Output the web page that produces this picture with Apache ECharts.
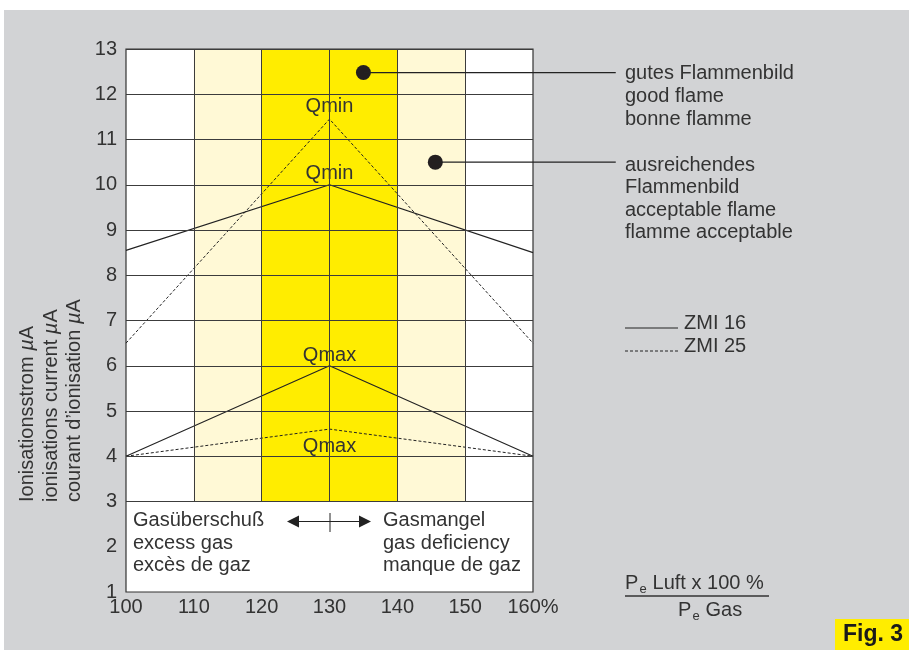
<!DOCTYPE html>
<html><head><meta charset="utf-8">
<script src="https://cdn.jsdelivr.net/npm/echarts@6/dist/echarts.min.js"></script>
<style>html,body{margin:0;padding:0;background:#fff}#c{width:909px;height:650px}</style>
</head><body><div id="c"></div>
<script>
// ---- data ----
const xPoints = [100, 130, 160];
const zmi16Qmin = [8.55, 10, 8.5];
const zmi16Qmax = [4, 6, 4];
const zmi25Qmin = [6.5, 11.45, 6.5];
const zmi25Qmax = [4, 4.6, 4];
const xTickLabels = ['100', '110', '120', '130', '140', '150', '160%'];
const yTickLabels = ['1','2','3','4','5','6','7','8','9','10','11','12','13'];
const gridYs = [3, 4, 5, 6, 7, 8, 9, 10, 11, 12, 13];
const gridXs = [110, 120, 130, 140, 150];
const lightBands = [[110, 120], [140, 150]];
const goodBands = [[120, 140]];
const bandYRange = [3, 13];
const peakLabels = [
  [130, 11.45, 'Qmin'],
  [130, 10, 'Qmin'],
  [130, 6, 'Qmax'],
  [130, 4.6, 'Qmax']
];
const flameDots = [[135, 12.48], [145.6, 10.5]];
const leaderEndX = 172.2;
const goodFlameText = ['gutes Flammenbild', 'good flame', 'bonne flamme'];
const okFlameText = ['ausreichendes', 'Flammenbild', 'acceptable flame', 'flamme acceptable'];
const yTitleLines = ['Ionisationsstrom ', 'ionisations current ', 'courant d\u2019ionisation '];
const leftBoxText = ['Gasüberschuß', 'excess gas', 'excès de gaz'];
const rightBoxText = ['Gasmangel', 'gas deficiency', 'manque de gaz'];
const legendNames = ['ZMI 16', 'ZMI 25'];

// ---- styles ----
const FONT = '"Liberation Sans", Arial, Helvetica, sans-serif';
const TXT = '#333333';
const LINE = '#222222';
const GRIDC = '#3c3c3c';
const LIGHT = '#FFF9D6';
const BRIGHT = '#FFED00';
const DOT = [3, 2];

function pts(ys) { return xPoints.map((x, i) => [x, ys[i]]); }
function txt(x, y, s, extra) {
  return {
    type: 'text', x: x, y: y, z: 100,
    style: Object.assign({
      text: s, fontSize: 20, fontFamily: FONT, fill: TXT,
      align: 'left', textAlign: 'left', verticalAlign: 'middle', textVerticalAlign: 'middle'
    }, extra || {})
  };
}

const chart = echarts.init(document.getElementById('c'), null, { renderer: 'canvas' });

const graphics = [];
// gray page background
graphics.push({ type: 'rect', z: -100, shape: { x: 4, y: 10, width: 905, height: 640 }, style: { fill: '#D2D3D5' } });
// y-axis title (rotated, three lines)
const yTitleX = [27, 51, 74];
yTitleLines.forEach((s, i) => {
  graphics.push({
    type: 'text', x: yTitleX[i], y: 502, rotation: Math.PI / 2, z: 100,
    style: {
      text: s + '{i|µ}A', fontSize: 20, fontFamily: FONT, fill: TXT,
      align: 'left', textAlign: 'left', verticalAlign: 'middle', textVerticalAlign: 'middle',
      rich: { i: { fontStyle: 'italic', fontSize: 20, fontFamily: FONT, fill: TXT } }
    }
  });
});
// right annotations
const goodY = [73.3, 96.2, 119];
goodFlameText.forEach((s, i) => graphics.push(txt(625, goodY[i], s)));
const okY = [165, 187.5, 210, 232.7];
okFlameText.forEach((s, i) => graphics.push(txt(625, okY[i], s)));
// legend
graphics.push({ type: 'line', z: 100, shape: { x1: 625, y1: 328, x2: 678, y2: 328 }, style: { stroke: LINE, lineWidth: 1 } });
graphics.push({ type: 'line', z: 100, shape: { x1: 625, y1: 351, x2: 678, y2: 351 }, style: { stroke: LINE, lineWidth: 1, lineDash: DOT } });
graphics.push(txt(684, 323, legendNames[0]));
graphics.push(txt(684, 346, legendNames[1]));
// lower box texts
const boxY = [520, 543, 565];
leftBoxText.forEach((s, i) => graphics.push(txt(133, boxY[i], s)));
rightBoxText.forEach((s, i) => graphics.push(txt(383, boxY[i], s)));
// double arrow
graphics.push({ type: 'line', z: 100, shape: { x1: 296, y1: 521.5, x2: 362, y2: 521.5 }, style: { stroke: LINE, lineWidth: 1.2 } });
graphics.push({ type: 'polygon', z: 100, shape: { points: [[287, 521.5], [299, 515.5], [299, 527.5]] }, style: { fill: LINE } });
graphics.push({ type: 'polygon', z: 100, shape: { points: [[371, 521.5], [359, 515.5], [359, 527.5]] }, style: { fill: LINE } });
graphics.push({ type: 'line', z: 100, shape: { x1: 330, y1: 513, x2: 330, y2: 532 }, style: { stroke: LINE, lineWidth: 1 } });
// fraction label
graphics.push(txt(625, 583, 'P'));
graphics.push(txt(639.5, 589, 'e', { fontSize: 13 }));
graphics.push(txt(647, 583, ' Luft x 100 %'));
graphics.push({ type: 'line', z: 100, shape: { x1: 625, y1: 596, x2: 769, y2: 596 }, style: { stroke: TXT, lineWidth: 1.3 } });
graphics.push(txt(678, 610, 'P'));
graphics.push(txt(692.5, 616, 'e', { fontSize: 13 }));
graphics.push(txt(700, 610, ' Gas'));
// Fig. 3 tag
graphics.push({ type: 'rect', z: 90, shape: { x: 835, y: 619, width: 74, height: 31 }, style: { fill: BRIGHT } });
graphics.push(txt(843, 635, 'Fig. 3', { fontWeight: 'bold', fill: '#1a1a1a', fontSize: 23 }));

const option = {
  animation: false,
  backgroundColor: '#ffffff',
  grid: { left: 126, right: 376, top: 49, bottom: 58, show: true, backgroundColor: '#ffffff', borderColor: '#333', borderWidth: 1.2, z: 0 },
  xAxis: {
    type: 'value', min: 100, max: 160, interval: 10,
    axisLine: { show: false }, axisTick: { show: false }, splitLine: { show: false },
    axisLabel: { fontSize: 20, fontFamily: FONT, color: TXT, margin: 5,
      formatter: v => xTickLabels[Math.round((v - 100) / 10)] }
  },
  yAxis: {
    type: 'value', min: 1, max: 13, interval: 1,
    axisLine: { show: false }, axisTick: { show: false }, splitLine: { show: false },
    axisLabel: { fontSize: 20, fontFamily: FONT, color: TXT, margin: 9,
      formatter: v => yTickLabels[Math.round(v - 1)] }
  },
  graphic: { elements: graphics },
  series: [
    {
      type: 'line', data: [], silent: true, z: 1,
      markArea: {
        silent: true,
        data: lightBands.map(b => [{ xAxis: b[0], yAxis: bandYRange[0], itemStyle: { color: LIGHT } }, { xAxis: b[1], yAxis: bandYRange[1] }])
          .concat(goodBands.map(b => [{ xAxis: b[0], yAxis: bandYRange[0], itemStyle: { color: BRIGHT } }, { xAxis: b[1], yAxis: bandYRange[1] }]))
      }
    },
    {
      type: 'line', data: [], silent: true, z: 2,
      markLine: {
        silent: true, symbol: ['none', 'none'], label: { show: false },
        lineStyle: { color: GRIDC, width: 1, type: 'solid' },
        data: gridYs.map(y => [{ coord: [100, y] }, { coord: [160, y] }])
          .concat(gridXs.map(x => [{ coord: [x, bandYRange[0]] }, { coord: [x, bandYRange[1]] }]))
      }
    },
    { name: 'ZMI 16 Qmin', type: 'line', data: pts(zmi16Qmin), symbol: 'none', z: 3, lineStyle: { color: LINE, width: 1.1 } },
    { name: 'ZMI 16 Qmax', type: 'line', data: pts(zmi16Qmax), symbol: 'none', z: 3, lineStyle: { color: LINE, width: 1.1 } },
    { name: 'ZMI 25 Qmin', type: 'line', data: pts(zmi25Qmin), symbol: 'none', z: 3, lineStyle: { color: LINE, width: 1, type: DOT } },
    { name: 'ZMI 25 Qmax', type: 'line', data: pts(zmi25Qmax), symbol: 'none', z: 3, lineStyle: { color: LINE, width: 1, type: DOT } },
    {
      type: 'scatter', z: 4, silent: true, symbolSize: 1,
      itemStyle: { color: 'rgba(0,0,0,0)', opacity: 1 },
      data: peakLabels.map((p, i) => ({
        value: p,
        label: { show: true, position: 'inside', formatter: p[2], fontSize: 20, fontFamily: FONT, color: TXT, opacity: 1,
          offset: [0, [-13, -11, -10, 17][i]] }
      }))
    },
    { type: 'scatter', z: 5, silent: true, symbolSize: 15, itemStyle: { color: '#231f20', opacity: 1 }, data: flameDots }
  ]
};
chart.setOption(option);

// leader lines from the dots to the annotation texts (positions via the chart's own scales)
const leaders = flameDots.map((d, i) => {
  const a = chart.convertToPixel({ gridIndex: 0 }, d);
  const b = chart.convertToPixel({ gridIndex: 0 }, [leaderEndX, d[1]]);
  return { type: 'line', z: 99, shape: { x1: a[0], y1: a[1], x2: b[0], y2: b[1] }, style: { stroke: LINE, lineWidth: 1.2 } };
});
chart.setOption({ graphic: { elements: graphics.concat(leaders) } });
</script>
</body></html>
